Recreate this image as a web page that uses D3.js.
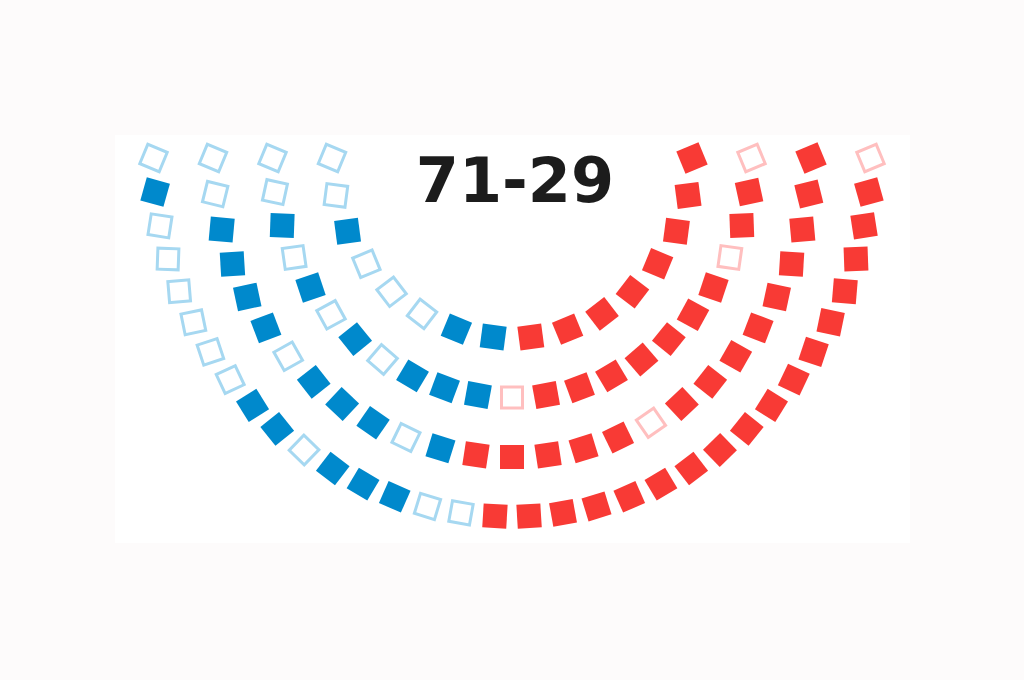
<!DOCTYPE html>
<html>
<head>
<meta charset="utf-8">
<script src="https://cdn.jsdelivr.net/npm/d3@7"></script>
<style>
  html, body { margin: 0; padding: 0; background: #fdfbfb; }
  svg { display: block; }
</style>
</head>
<body>
<div id="chart"></div>
<script>
// seat codes per row, inner to outer, left to right
// D = blue held, d = blue open, R = red held, r = red open
const row1 = ['d','d','D','d','d','d','D','D','R','R','R','R','R','R','R','R'];
const row2 = ['d','d','D','d','D','d','D','d','D','D','D','r','R','R','R','R','R','R','R','r','R','R','r'];
const row3 = ['d','d','D','D','D','D','d','D','D','D','d','D','R','R','R','R','R','r','R','R','R','R','R','R','R','R','R'];
const row4 = ['d','D','d','d','d','d','d','d','D','D','d','D','D','D','d','d',
              'R','R','R','R','R','R','R','R','R','R','R','R','R','R','R','R','R','r'];
const rows = [row1, row2, row3, row4];
const scoreLabel = '71-29';

const colours = {
    D: '#0089cc',
    d: '#a6d8f1',
    R: '#f83a35',
    r: '#ffbfbf'
};

const width = 1024;
const height = 680;
const cx = 512;
const cy = 158;

const svg = d3.select('#chart')
              .append('svg')
                .attr('width', width)
                .attr('height', height);

// white panel
svg.append('rect')
     .attr('x', 115)
     .attr('y', 135)
     .attr('width', 795)
     .attr('height', 408)
     .attr('fill', '#ffffff');

const radius = d3.scaleLinear()
                 .domain([0, rows.length - 1])
                 .range([180, 358.5]);

const seats = [];
rows.forEach(function(row, r) {
    const angle = d3.scaleLinear()
                    .domain([0, row.length - 1])
                    .range([180, 0]);
    row.forEach(function(code, i) {
        const deg = angle(i);
        const rad = deg * Math.PI / 180;
        seats.push({
            code: code,
            x: cx + radius(r) * Math.cos(rad),
            y: cy + radius(r) * Math.sin(rad),
            rot: 1.25 * (deg - 90)
        });
    });
});

const seatG = svg.append('g')
                 .selectAll('g')
                 .data(seats)
                 .enter()
                    .append('g')
                      .attr('transform', d => `translate(${d.x}, ${d.y}) rotate(${d.rot})`);

seatG.filter(d => d.code === 'D' || d.code === 'R')
     .append('rect')
       .attr('x', -12)
       .attr('y', -12)
       .attr('width', 24)
       .attr('height', 24)
       .attr('fill', d => colours[d.code]);

seatG.filter(d => d.code === 'd' || d.code === 'r')
     .append('rect')
       .attr('x', -10.5)
       .attr('y', -10.5)
       .attr('width', 21)
       .attr('height', 21)
       .attr('fill', '#ffffff')
       .attr('stroke', d => colours[d.code])
       .attr('stroke-width', 3);

// score in the middle
svg.append('text')
     .attr('x', 515)
     .attr('y', 202)
     .attr('text-anchor', 'middle')
     .attr('font-family', 'DejaVu Sans')
     .attr('font-weight', 'bold')
     .attr('font-size', 62)
     .attr('fill', '#1c1c1c')
     .text(scoreLabel);
</script>
</body>
</html>
